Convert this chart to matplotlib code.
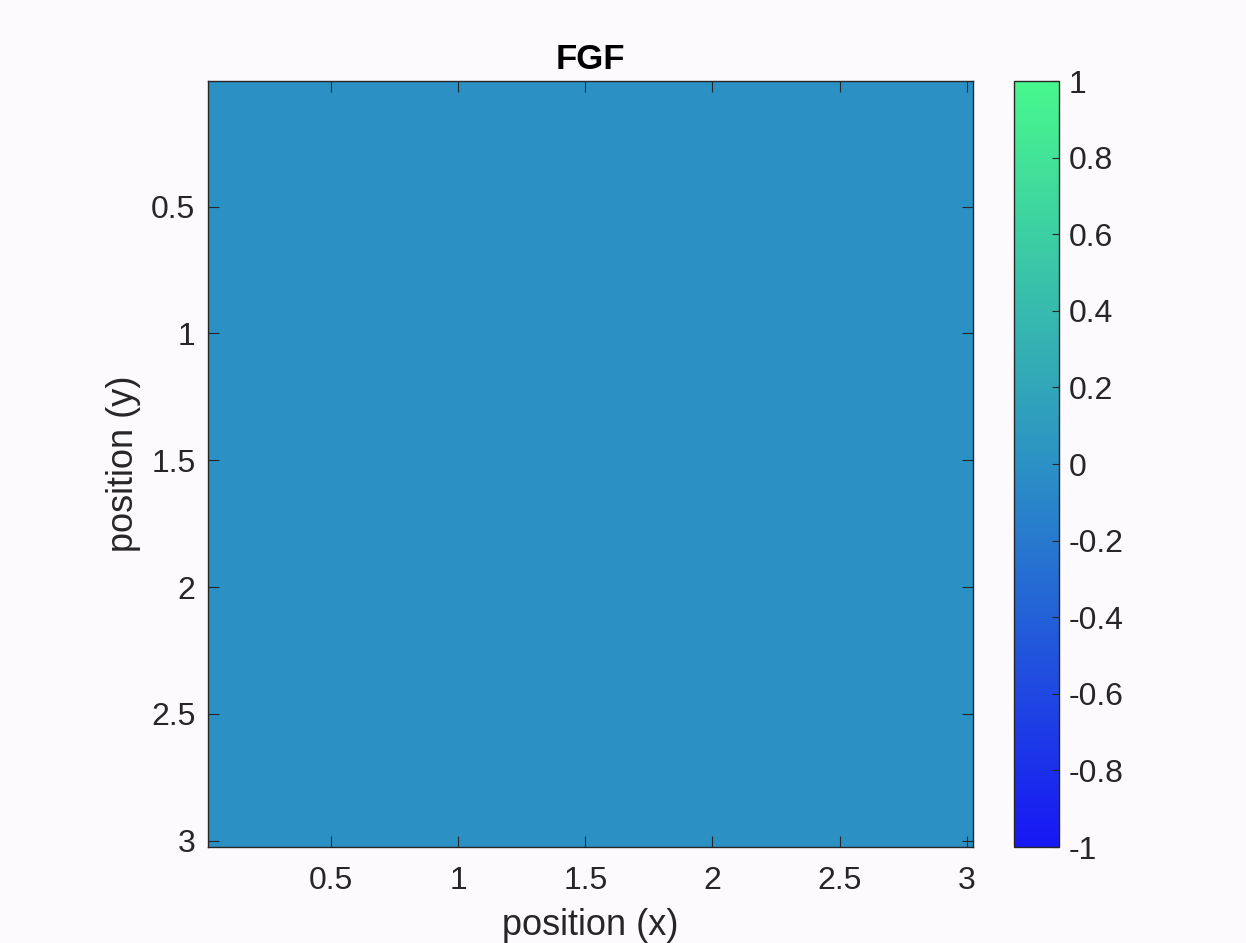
import numpy as np
import matplotlib
matplotlib.use("Agg")
import matplotlib.pyplot as plt
from matplotlib.colors import LinearSegmentedColormap

# field values (uniform zero everywhere)
n_rows, n_cols = 100, 100
fgf = np.zeros((n_rows, n_cols))
x_range = [0.015, 3.025]
y_range = [0.005, 3.025]

x_ticks = [0.5, 1, 1.5, 2, 2.5, 3]
y_ticks = [0.5, 1, 1.5, 2, 2.5, 3]
cbar_ticks = [-1, -0.8, -0.6, -0.4, -0.2, 0, 0.2, 0.4, 0.6, 0.8, 1]
cbar_labels = ["-1", "-0.8", "-0.6", "-0.4", "-0.2", "0", "0.2", "0.4", "0.6", "0.8", "1"]

plt.rcParams['font.family'] = ['Liberation Sans', 'DejaVu Sans']

# winter-like colormap as it appears in the frame
winter_look = LinearSegmentedColormap.from_list(
    "winter_look", [(0.09, 0.09, 0.96), (0.17, 0.57, 0.77), (0.28, 0.97, 0.55)])

bg = "#fdfafd"
ink = "#262626"

fig = plt.figure(figsize=(12.46, 9.43), dpi=100, facecolor=bg)
ax = fig.add_axes([0.1669, 0.1018, 0.614, 0.8123])
cax = fig.add_axes([0.8138, 0.1018, 0.0361, 0.8123])

im = ax.imshow(fgf, cmap=winter_look, vmin=-1, vmax=1, origin="upper",
               extent=[x_range[0], x_range[1], y_range[1], y_range[0]],
               aspect="auto", interpolation="nearest")

ax.set_xticks(x_ticks)
ax.set_xticklabels(["0.5", "1", "1.5", "2", "2.5", "3"])
ax.set_yticks(y_ticks)
ax.set_yticklabels(["0.5", "1", "1.5", "2", "2.5", "3"])
ax.tick_params(direction="in", length=8, width=0.8, colors=ink,
               labelsize=23, top=True, right=True)
ax.tick_params(axis="x", pad=14)
ax.tick_params(axis="y", pad=9)
for s in ax.spines.values():
    s.set_color(ink)
    s.set_linewidth(1.0)

ax.set_title("FGF", fontsize=25, fontweight="bold", color="black", pad=9)
ax.set_xlabel("position (x)", fontsize=26, color=ink, labelpad=8)
ax.set_ylabel("position (y)", fontsize=26, color=ink, labelpad=7)

cb = fig.colorbar(im, cax=cax, ticks=cbar_ticks)
cb.ax.set_yticklabels(cbar_labels)
cb.ax.tick_params(direction="in", length=5, width=0.8, colors=ink,
                  labelsize=23, pad=7)
cb.outline.set_edgecolor(ink)
cb.outline.set_linewidth(1.0)

fig.savefig("out.png", dpi=100, facecolor=bg)
